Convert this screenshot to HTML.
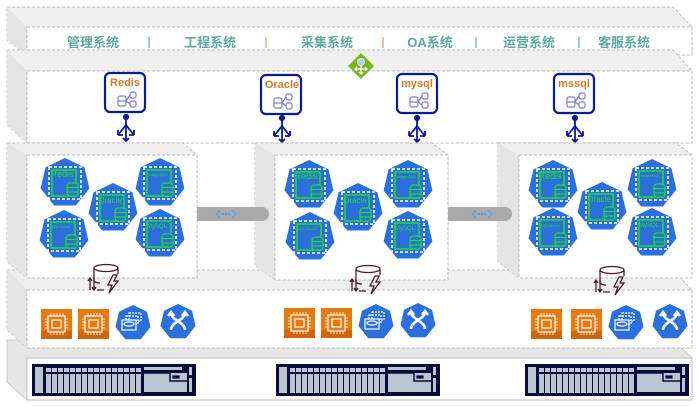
<!DOCTYPE html>
<html><head><meta charset="utf-8"><style>
html,body{margin:0;padding:0;background:#fff;width:698px;height:406px;overflow:hidden}
svg{display:block}
text{font-family:"Liberation Sans","Noto Sans CJK SC",sans-serif}
</style></head><body>
<svg width="698" height="406" viewBox="0 0 698 406" xmlns="http://www.w3.org/2000/svg">
<defs>
<g id="hex">
 <polygon points="0,-25 19.5,-15.6 24.4,5.5 10.8,22.5 -10.8,22.5 -24.4,5.5 -19.5,-15.6" fill="#2b6fdc"/>
 <rect x="-16" y="-16" width="32" height="32" fill="none" stroke="#fff" stroke-width="1.6" stroke-dasharray="3,2"/>
 <rect x="-13" y="-13" width="24" height="26" fill="none" stroke="#22e022" stroke-width="1.5"/>
 <g fill="#2b6fdc" stroke="#22e022" stroke-width="1.2">
  <rect x="2" y="0" width="11" height="13" rx="3"/>
  <line x1="2" y1="4.5" x2="13" y2="4.5"/><line x1="2" y1="9" x2="13" y2="9"/>
 </g>
</g>
<g id="dbbox">
 <rect x="0" y="0" width="40" height="39" rx="5" fill="#fff" stroke="#0a1a9a" stroke-width="2.2"/>
 <g fill="none" stroke="#7b7fd6" stroke-width="1.2">
  <rect x="13" y="23" width="8" height="10" rx="2"/><line x1="13" y1="28" x2="21" y2="28"/>
  <rect x="25" y="19" width="6" height="6" rx="2"/><rect x="25" y="28" width="6" height="6" rx="2"/>
  <path d="M21 28 L25 22 M21 28 L25 31"/>
 </g>
</g>
<g id="arr" stroke="#0a1a9a" stroke-width="1.8" fill="none">
 <circle cx="0" cy="0" r="2.2" fill="#0a1a9a"/>
 <line x1="0" y1="0" x2="0" y2="24"/>
 <path d="M0 8 L-8 18 M0 8 L8 18 M-8 18 L-8 13 M-8 18 L-3 18 M8 18 L8 13 M8 18 L3 18 M-3 21 L0 24 L3 21"/>
</g>
<g id="cpu">
 <rect x="0" y="0" width="31" height="30" fill="#e8790e"/>
 <rect x="0" y="22" width="31" height="8" fill="#d0650a"/>
 <rect x="7" y="7" width="17" height="16" fill="none" stroke="#fff" stroke-width="1.2"/>
 <rect x="11" y="11" width="9" height="8" fill="none" stroke="#fff" stroke-width="1.2"/>
 <g stroke="#fff" stroke-width="0.8">
  <path d="M10 4v3M13 4v3M16 4v3M19 4v3M22 4v3M10 23v3M13 23v3M16 23v3M19 23v3M22 23v3M4 10h3M4 13h3M4 16h3M4 19h3M24 10h3M24 13h3M24 16h3M24 19h3"/>
 </g>
</g>
<g id="hexs">
 <polygon points="0,-18 14,-11.2 17.5,4 7.8,16.2 -7.8,16.2 -17.5,4 -14,-11.2" fill="#2b6fdc"/>
</g>
<g id="h1">
 <use href="#hexs"/>
 <g fill="none" stroke="#fff" stroke-width="1.2">
  <rect x="-4" y="-10" width="12" height="8" stroke-dasharray="2,1"/>
  <rect x="-7" y="-7" width="12" height="8" stroke-dasharray="2,1"/>
  <rect x="-11" y="-3" width="14" height="10" fill="#2b6fdc"/>
  <ellipse cx="-4" cy="1" rx="5" ry="2"/>
 </g>
</g>
<g id="h2">
 <use href="#hexs"/>
 <path d="M-7 8 C-7 0 7 -2 7 -9 M7 8 C7 0 -7 -2 -7 -9 M-10 -6 L-7 -10 L-4 -6 M4 -6 L7 -10 L10 -6" fill="none" stroke="#fff" stroke-width="2.6"/>
</g>
<g id="dbl" fill="none" stroke="#4a1a2a" stroke-width="1.3">
 <path d="M-12 -8 v12 M12 -8 v6"/>
 <ellipse cx="0" cy="-8" rx="12" ry="3.5"/>
 <path d="M-12 4 q0 3 6 3"/>
 <path d="M-16 2 v12 M-18 5 l2 -3 l2 3 M-12 2 v12 M-14 11 l2 3 l2 -3 M-9 14 h7"/>
 <path d="M7 -1 L2 9 L6 9 L3 17 L12 5 L8 5 L11 -1 Z"/>
</g>
<g id="srv">
 <rect x="0" y="0" width="164" height="32" fill="#0b0c3a"/>
 <rect x="3" y="3" width="8" height="26" fill="#b9c6d2"/>
 <g fill="#b9c6d2">
  <rect x="14" y="4" width="5" height="4"/><rect x="20" y="4" width="5" height="4"/><rect x="26" y="4" width="5" height="4"/><rect x="32" y="4" width="5" height="4"/><rect x="38" y="4" width="5" height="4"/><rect x="44" y="4" width="5" height="4"/><rect x="50" y="4" width="5" height="4"/><rect x="56" y="4" width="5" height="4"/><rect x="62" y="4" width="5" height="4"/><rect x="68" y="4" width="5" height="4"/><rect x="74" y="4" width="5" height="4"/><rect x="80" y="4" width="5" height="4"/><rect x="86" y="4" width="5" height="4"/><rect x="92" y="4" width="5" height="4"/><rect x="98" y="4" width="5" height="4"/><rect x="104" y="4" width="5" height="4"/>
  <rect x="14" y="10" width="5" height="19"/><rect x="20" y="10" width="5" height="19"/><rect x="26" y="10" width="5" height="19"/><rect x="32" y="10" width="5" height="19"/><rect x="38" y="10" width="5" height="19"/><rect x="44" y="10" width="5" height="19"/><rect x="50" y="10" width="5" height="19"/><rect x="56" y="10" width="5" height="19"/><rect x="62" y="10" width="5" height="19"/><rect x="68" y="10" width="5" height="19"/><rect x="74" y="10" width="5" height="19"/><rect x="80" y="10" width="5" height="19"/><rect x="86" y="10" width="5" height="19"/><rect x="92" y="10" width="5" height="19"/><rect x="98" y="10" width="5" height="19"/><rect x="104" y="10" width="5" height="19"/>
  <rect x="112" y="3" width="38" height="3"/>
  <rect x="112" y="9" width="43" height="19"/>
  <rect x="157" y="3" width="3" height="8"/><rect x="157" y="14" width="3" height="14"/>
 </g>
 <path d="M112 9 h26 v8 h17" fill="none" stroke="#0b0c3a" stroke-width="1.5"/>
 <rect x="140" y="11" width="8" height="4" fill="#0b0c3a" stroke="#b9c6d2" stroke-width="0.8"/>
</g>
</defs>

<!-- Layer 5 (bottom) -->
<polygon points="7,340 673,340 692,358 692,400 27,400 7,382" fill="#e6e6e6" stroke="#c8c8c8"/>
<rect x="27" y="358" width="665" height="42" fill="#fff" stroke="#c8c8c8" stroke-width="1.2"/>

<!-- Layer 4 -->
<polygon points="7,270 673,270 692,290 692,348 27,348 7,330" fill="#efefef" stroke="#bdbdbd" stroke-dasharray="3,2"/>
<polygon points="7,270 27,290 27,348 7,330" fill="#e4e4e4"/>
<rect x="27" y="290" width="665" height="58" fill="#fff" stroke="#bdbdbd" stroke-dasharray="3,2"/>

<!-- Layer 1 -->
<polygon points="7,7 673,7 692,27 692,55 27,55 7,40" fill="#efefef" stroke="#bdbdbd" stroke-dasharray="3,2"/>
<polygon points="7,7 27,27 27,55 7,40" fill="#e4e4e4"/>
<rect x="27" y="27" width="665" height="28" fill="#fff" stroke="#bdbdbd" stroke-dasharray="3,2"/>
<g font-size="13" font-weight="bold" fill="#5ea8a2" text-anchor="middle">
 <text x="93" y="47">管理系统</text>
 <text x="210" y="47">工程系统</text>
 <text x="327" y="47">采集系统</text>
 <text x="430" y="47">OA系统</text>
 <text x="529" y="47">运营系统</text>
 <text x="624" y="47">客服系统</text>
</g>
<g stroke-width="1.5">
 <line x1="149" y1="37" x2="149" y2="48" stroke="#7ab8d8"/>
 <line x1="266" y1="37" x2="266" y2="48" stroke="#e8a98a"/>
 <line x1="383" y1="37" x2="383" y2="48" stroke="#e8a98a"/>
 <line x1="476" y1="37" x2="476" y2="48" stroke="#7ab8d8"/>
 <line x1="579" y1="37" x2="579" y2="48" stroke="#7ab8d8"/>
</g>

<!-- Layer 2 -->
<polygon points="7,50 673,50 692,71 692,143 27,143 7,125" fill="#efefef" stroke="#bdbdbd" stroke-dasharray="3,2"/>
<polygon points="7,50 27,71 27,143 7,125" fill="#e4e4e4"/>
<rect x="27" y="71" width="665" height="72" fill="#fff" stroke="#bdbdbd" stroke-dasharray="3,2"/>
<g transform="translate(361,66)">
 <polygon points="0,-13 13,0 0,13 -13,0" fill="#7ab51d"/>
 <circle cx="0" cy="-4" r="3.5" fill="#a9d0f5" stroke="#fff" stroke-width="0.8"/>
 <path d="M0 -1 v9 M-6 3 h12 M-4 1 l-2 2 l2 2 M4 1 l2 2 l-2 2 M-2 6 l2 2 l2 -2" stroke="#fff" stroke-width="1.3" fill="none"/>
</g>
<use href="#dbbox" x="105" y="73"/><text x="125" y="86" font-size="11" font-weight="bold" fill="#d57a2a" text-anchor="middle">Redis</text>
<use href="#dbbox" x="261" y="75"/><text x="282" y="88" font-size="11" font-weight="bold" fill="#d57a2a" text-anchor="middle">Oracle</text>
<use href="#dbbox" x="397" y="74"/><text x="417" y="87" font-size="11" font-weight="bold" fill="#d57a2a" text-anchor="middle">mysql</text>
<use href="#dbbox" x="554" y="74"/><text x="574" y="87" font-size="11" font-weight="bold" fill="#d57a2a" text-anchor="middle">mssql</text>
<use href="#arr" x="126" y="117"/>
<use href="#arr" x="282" y="118"/>
<use href="#arr" x="417" y="118"/>
<use href="#arr" x="575" y="118"/>

<!-- Layer 3 boxes -->
<g stroke="#bdbdbd" stroke-dasharray="3,2">
 <polygon points="7,143 183,143 197,155 197,278 27,278 7,262" fill="#efefef"/>
 <polygon points="7,143 27,155 27,278 7,262" fill="#e4e4e4" stroke="none"/>
 <rect x="27" y="155" width="170" height="123" fill="#fff"/>
 <polygon points="255,143 432,143 448,155 448,280 275,280 255,265" fill="#efefef"/>
 <polygon points="255,143 275,155 275,280 255,265" fill="#e4e4e4" stroke="none"/>
 <rect x="275" y="155" width="173" height="125" fill="#fff"/>
 <polygon points="498,143 676,143 692,155 692,278 519,278 498,262" fill="#efefef"/>
 <polygon points="498,143 519,155 519,278 498,262" fill="#e4e4e4" stroke="none"/>
 <rect x="519" y="155" width="173" height="123" fill="#fff"/>
</g>

<!-- connectors (over side faces) -->
<path d="M197 207 H262 A7 7 0 0 1 262 221 H197 Z" fill="#aaaaaa"/>
<path d="M448 207 H505 A7 7 0 0 1 505 221 H448 Z" fill="#aaaaaa"/>
<g fill="none" stroke="#4b9ee0" stroke-width="1"><path d="M220 210 l-4 4 l4 4 M232 210 l4 4 l-4 4"/><path d="M476 210 l-4 4 l4 4 M488 210 l4 4 l-4 4"/></g>
<g fill="#4b9ee0"><circle cx="223" cy="214" r="1.2"/><circle cx="226" cy="214" r="1.2"/><circle cx="229" cy="214" r="1.2"/><circle cx="479" cy="214" r="1.2"/><circle cx="482" cy="214" r="1.2"/><circle cx="485" cy="214" r="1.2"/></g>

<g font-size="6.5" fill="#22e022" text-anchor="middle">
 <use href="#hex" x="65" y="183"/><text x="62" y="177" font-size="9">Redis</text>
 <use href="#hex" x="160" y="183"/><text x="157" y="176" font-size="4">PostgreSQL</text>
 <use href="#hex" x="113" y="208"/><text x="110" y="203" font-size="8">Oracle</text>
 <use href="#hex" x="64" y="235"/><text x="61" y="228" font-size="4">SQLServer</text>
 <use href="#hex" x="160" y="234"/><text x="157" y="228" font-size="6">MySQL</text>

 <use href="#hex" x="309" y="185"/><text x="306" y="179" font-size="9">Redis</text>
 <use href="#hex" x="408" y="185"/><text x="405" y="178" font-size="4">PostgreSQL</text>
 <use href="#hex" x="358" y="208"/><text x="355" y="203" font-size="8">Oracle</text>
 <use href="#hex" x="310" y="237"/><text x="307" y="230" font-size="4">SQLServer</text>
 <use href="#hex" x="408" y="236"/><text x="405" y="230" font-size="6">MySQL</text>

 <use href="#hex" x="553" y="185"/><text x="550" y="179" font-size="9">Redis</text>
 <use href="#hex" x="652" y="184"/><text x="649" y="177" font-size="4">PostgreSQL</text>
 <use href="#hex" x="602" y="207"/><text x="599" y="202" font-size="8">Oracle</text>
 <use href="#hex" x="553" y="233"/><text x="550" y="227" font-size="4">SQLServer</text>
 <use href="#hex" x="652" y="233"/><text x="649" y="227" font-size="6">MySQL</text>
</g>

<!-- Layer 4 icons -->
<use href="#dbl" x="106" y="276"/>
<use href="#dbl" x="368" y="277"/>
<use href="#dbl" x="612" y="278"/>
<use href="#cpu" x="41" y="309"/><use href="#cpu" x="78" y="309"/>
<use href="#h1" x="133" y="323"/><use href="#h2" x="178" y="322"/>
<use href="#cpu" x="284" y="308"/><use href="#cpu" x="321" y="308"/>
<use href="#h1" x="376" y="322"/><use href="#h2" x="418" y="321"/>
<use href="#cpu" x="531" y="309"/><use href="#cpu" x="571" y="309"/>
<use href="#h1" x="626" y="323"/><use href="#h2" x="670" y="322"/>

<!-- servers -->
<use href="#srv" x="32" y="364"/>
<use href="#srv" x="276" y="364"/>
<use href="#srv" x="525" y="364"/>
</svg>
</body></html>
